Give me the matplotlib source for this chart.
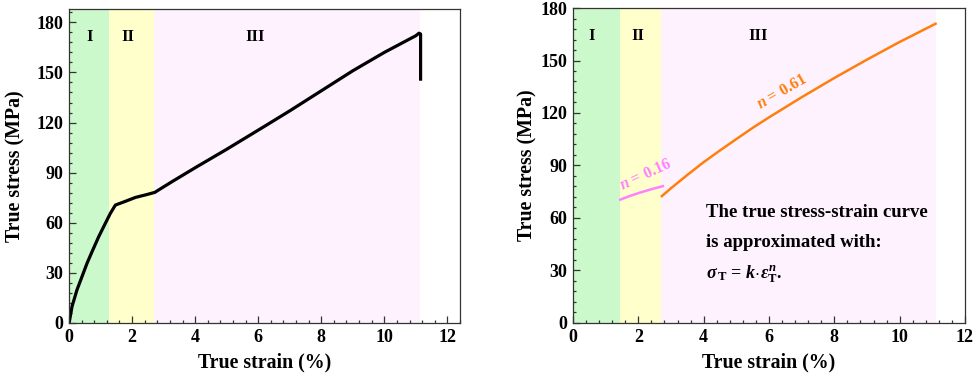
import numpy as np
import matplotlib.pyplot as plt
from matplotlib.ticker import MultipleLocator

plt.rcParams["font.family"] = ["Liberation Serif", "DejaVu Serif"]
plt.rcParams["font.weight"] = "bold"
plt.rcParams["mathtext.fontset"] = "custom"
plt.rcParams["mathtext.rm"] = "Liberation Serif:bold"
plt.rcParams["mathtext.it"] = "Liberation Serif:italic:bold"
plt.rcParams["mathtext.bf"] = "Liberation Serif:bold"

# measured true stress-strain curve (left panel)
strain = [0.0, 0.01, 0.095, 0.25, 0.41, 0.57, 0.73, 0.94, 1.15, 1.31, 1.47,
          1.74, 2.11, 2.45, 2.72, 3.0, 3.3, 4.05, 5.0, 6.17, 7.0, 8.0, 9.0,
          10.0, 10.6, 11.0, 11.1, 11.15, 11.15]
stress = [0, 0.8, 9.9, 19.7, 27.7, 35.7, 42.7, 51.6, 59.6, 65.6, 70.6,
          72.5, 75.2, 76.8, 78.2, 81.5, 85.0, 93.5, 104, 117.4, 127, 139, 151,
          162, 168, 172, 173.5, 173, 146]

# fitted curves (right panel)
fit2_strain = [1.45, 1.7, 2.0, 2.3, 2.55, 2.75]
fit2_stress = [70.5, 72.3, 74.2, 75.9, 77.2, 78.2]
fit3_strain = [2.72, 3.0, 3.25, 3.5, 4.0, 4.5, 5.0, 5.5, 6.0, 7.0, 8.0, 9.0, 10.0, 11.1]
fit3_stress = [72.5, 77.0, 80.8, 84.6, 91.9, 98.6, 105.1, 111.5, 117.5, 129, 140, 150.5, 160.6, 171]

stage_labels = ["I", "II", "III"]
bounds_left = [0, 1.28, 2.71, 11.12]
bounds_right = [0, 1.45, 2.70, 11.1]
stage_colors = ["#ccf9cc", "#ffffcc", "#fdf2fd"]

fig = plt.figure(figsize=(9.75, 3.74), dpi=100)
ax1 = fig.add_axes([0.0708, 0.1364, 0.401, 0.8396])
ax2 = fig.add_axes([0.5877, 0.1364, 0.402, 0.8422])


def style(ax, xmax, ymax, ypad):
    ax.set_xlim(0, xmax)
    ax.set_ylim(0, ymax)
    ax.xaxis.set_major_locator(MultipleLocator(2))
    ax.xaxis.set_minor_locator(MultipleLocator(0.4))
    ax.yaxis.set_major_locator(MultipleLocator(30))
    ax.yaxis.set_minor_locator(MultipleLocator(6))
    ax.tick_params(which="both", direction="in", top=False, right=False,
                   labelsize=13, width=0.9, color="#333333")
    ax.tick_params(which="major", length=5, pad=4)
    ax.tick_params(which="minor", length=2.5)
    for s in ax.spines.values():
        s.set_color("#333333")
        s.set_linewidth(0.9)
    for lab in ax.get_xticklabels() + ax.get_yticklabels():
        lab.set_fontweight("bold")
    ax.set_xlabel("True strain (%)", fontsize=14.3, fontweight="bold", labelpad=5)
    ax.set_ylabel("True stress (MPa)", fontsize=14.3, fontweight="bold", labelpad=ypad)


for ax, b in [(ax1, bounds_left), (ax2, bounds_right)]:
    for i in range(3):
        ax.axvspan(b[i], b[i + 1], color=stage_colors[i], lw=0, zorder=0)

style(ax1, 12.4, 188, 8)
style(ax2, 12, 180, 2.5)

ax1.plot(strain, stress, color="k", lw=2.3, solid_joinstyle="round")
for lab, xx in zip(stage_labels, [0.65, 1.86, 5.9]):
    ax1.text(xx, 171, lab, ha="center", va="center", fontsize=12, fontweight="bold")

ax2.plot(fit2_strain, fit2_stress, color="#ff80ff", lw=1.8)
ax2.plot(fit3_strain, fit3_stress, color="#ff7f0e", lw=1.8)
for lab, xx in zip(stage_labels, [0.58, 1.99, 5.68]):
    ax2.text(xx, 164, lab, ha="center", va="center", fontsize=12, fontweight="bold")

ax2.text(2.21, 84.6, r"$n$ = 0.16", color="#ff80ff", fontsize=11.5, rotation=25,
         ha="center", va="center", rotation_mode="anchor")
ax2.text(6.39, 132, r"$n$ = 0.61", color="#ff7f0e", fontsize=11.5, rotation=30,
         ha="center", va="center", rotation_mode="anchor")

ax2.text(4.08, 60.7, "The true stress-strain curve", fontsize=13.5, fontweight="bold")
ax2.text(4.08, 43.6, "is approximated with:", fontsize=13.5, fontweight="bold")
ax2.text(4.08, 25.7, r"$\sigma_{\,\mathrm{T}}$ = $k\!\cdot\!\varepsilon_{\mathrm{T}}^{n}$.",
         fontsize=13)

fig.savefig("out.png", dpi=100)
